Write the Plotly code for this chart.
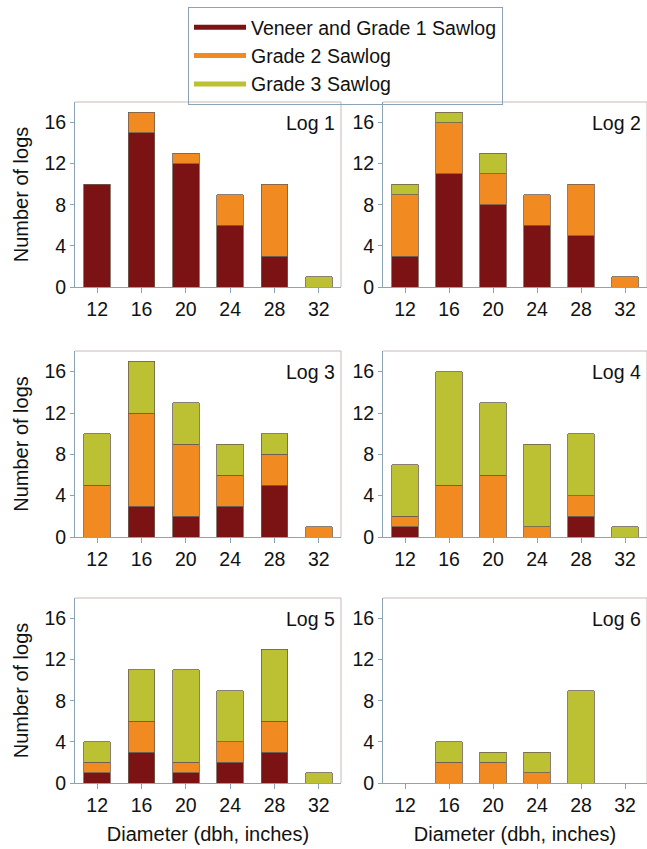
import plotly.graph_objects as go
from plotly.subplots import make_subplots

diameters = ["12", "16", "20", "24", "28", "32"]
series_names = ["Veneer and Grade 1 Sawlog", "Grade 2 Sawlog", "Grade 3 Sawlog"]
panel_labels = ["Log 1", "Log 2", "Log 3", "Log 4", "Log 5", "Log 6"]

veneer_g1 = [
    [10, 15, 12, 6, 3, 0],
    [3, 11, 8, 6, 5, 0],
    [0, 3, 2, 3, 5, 0],
    [1, 0, 0, 0, 2, 0],
    [1, 3, 1, 2, 3, 0],
    [0, 0, 0, 0, 0, 0],
]
grade2 = [
    [0, 2, 1, 3, 7, 0],
    [6, 5, 3, 3, 5, 1],
    [5, 9, 7, 3, 3, 1],
    [1, 5, 6, 1, 2, 0],
    [1, 3, 1, 2, 3, 0],
    [0, 2, 2, 1, 0, 0],
]
grade3 = [
    [0, 0, 0, 0, 0, 1],
    [1, 1, 2, 0, 0, 0],
    [5, 5, 4, 3, 2, 0],
    [5, 11, 7, 8, 6, 1],
    [2, 5, 9, 5, 7, 1],
    [0, 2, 1, 2, 9, 0],
]

colors = ["#7b1315", "#f28a22", "#bcc033"]
outline = "#6e5e52"
axis_col = "#8aa3b5"
frame_col = "#c9b9b6"
FONT = "Arial"
TXT = "#111111"
FS = 19.5

W, H = 647, 849


def px_x(v):
    return min(1.0, v / W)


def px_y(v):
    return 1 - v / H


col_dom = [(px_x(75), px_x(341)), (px_x(383), px_x(648))]
row_px = [(102, 287), (351, 537), (598, 783)]
row_dom = [(px_y(b), px_y(t)) for (t, b) in row_px]

fig = make_subplots(rows=3, cols=2)

for i in range(6):
    r, c = i // 2 + 1, i % 2 + 1
    for k, data in enumerate([veneer_g1, grade2, grade3]):
        vals = [v if v != 0 else None for v in data[i]]
        fig.add_trace(
            go.Bar(
                x=diameters, y=vals, name=series_names[k],
                marker=dict(color=colors[k], line=dict(color=outline, width=0.8)),
                width=0.6, showlegend=False,
            ),
            row=r, col=c,
        )

# legend entries drawn as lines
for k in range(3):
    fig.add_trace(
        go.Scatter(x=[None], y=[None], mode="lines", name=series_names[k],
                   line=dict(color=colors[k], width=5), showlegend=True),
        row=1, col=1,
    )

for i in range(6):
    r, c = i // 2 + 1, i % 2 + 1
    idx = "" if i == 0 else str(i + 1)
    fig.update_xaxes(
        domain=col_dom[c - 1], range=[-0.5, 5.5], type="category",
        showline=True, linecolor=axis_col, linewidth=1, mirror=False,
        ticks="outside", ticklen=5, tickcolor=axis_col, automargin=False,
        tickfont=dict(size=FS, color=TXT, family=FONT), showgrid=False,
        row=r, col=c,
    )
    fig.update_yaxes(
        domain=row_dom[r - 1], range=[0, 18], tickvals=[0, 4, 8, 12, 16],
        showline=True, linecolor=axis_col, linewidth=1, automargin=False,
        ticks="outside", ticklen=4, tickcolor=axis_col,
        tickfont=dict(size=FS, color=TXT, family=FONT), showgrid=False, zeroline=False,
        row=r, col=c,
    )
    x0, x1 = col_dom[c - 1]
    y0, y1 = row_dom[r - 1]
    fig.add_shape(type="line", xref="paper", yref="paper", x0=x0, x1=x1, y0=y1, y1=y1,
                  line=dict(color=frame_col, width=1))
    fig.add_shape(type="line", xref="paper", yref="paper", x0=x1, x1=x1, y0=y0, y1=y1,
                  line=dict(color=frame_col, width=1))
    fig.add_annotation(
        text=panel_labels[i], xref=f"x{idx} domain", yref=f"y{idx}",
        x=1, y=16, xanchor="right", yanchor="middle", xshift=-4,
        showarrow=False, font=dict(size=FS, color=TXT, family=FONT),
    )

for r in range(1, 4):
    fig.update_yaxes(title=dict(text="Number of logs", font=dict(size=20, color=TXT, family=FONT), standoff=10),
                     row=r, col=1)
for c in range(1, 3):
    fig.update_xaxes(title=dict(text="Diameter (dbh, inches)", font=dict(size=20, color=TXT, family=FONT), standoff=11),
                     row=3, col=c)

fig.update_layout(
    width=W, height=H,
    margin=dict(l=0, r=0, t=0, b=0, autoexpand=False),
    barmode="stack", bargap=0.4,
    paper_bgcolor="white", plot_bgcolor="white",
    font=dict(family=FONT, size=FS, color=TXT),
    legend=dict(
        x=px_x(188), y=px_y(7), xanchor="left", yanchor="top",
        bordercolor=axis_col, borderwidth=1, bgcolor="rgba(255,255,255,0)",
        font=dict(size=19.5, color=TXT, family=FONT), tracegroupgap=0,
        traceorder="normal", itemwidth=52,
    ),
)

fig.write_html("out.html", config={"displayModeBar": False},
               post_script="document.body.style.margin='0px';")
